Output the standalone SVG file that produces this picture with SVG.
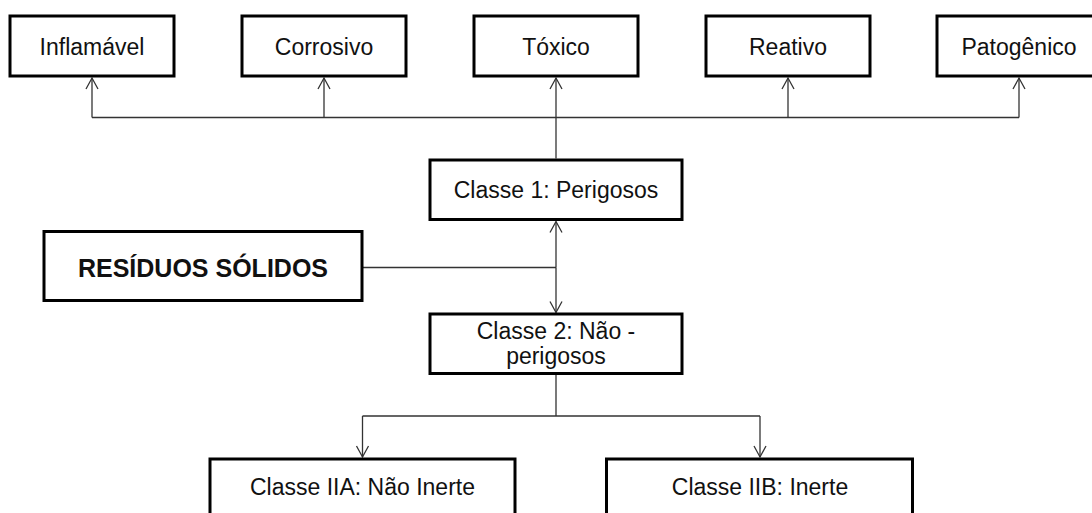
<svg xmlns="http://www.w3.org/2000/svg" width="1092" height="513" viewBox="0 0 1092 513">
<style>
.box{fill:#fff;stroke:#000;stroke-width:3}
.t{font-family:"Liberation Sans",Arial,sans-serif;font-size:23px;fill:#111;text-anchor:middle}
.b{font-weight:bold;font-size:25px}
.c{fill:none;stroke:#333;stroke-width:1.3}
</style>
<defs>
<marker id="arr" viewBox="-13 -8 15 16" refX="0" refY="0" markerWidth="15" markerHeight="16" markerUnits="userSpaceOnUse" orient="auto">
<path d="M-11,-6 L0,0 L-11,6" fill="none" stroke="#333" stroke-width="1.3"/>
</marker>
</defs>
<rect width="1092" height="513" fill="#fff"/>
<g id="connectors">
<path class="c" d="M92,117.5 H1019"/>
<path class="c" d="M92,117.5 V78" marker-end="url(#arr)"/>
<path class="c" d="M324,117.5 V78" marker-end="url(#arr)"/>
<path class="c" d="M788,117.5 V78" marker-end="url(#arr)"/>
<path class="c" d="M1019,117.5 V78" marker-end="url(#arr)"/>
<path class="c" d="M556,158.5 V78" marker-end="url(#arr)"/>
<path class="c" d="M363,267.5 H556"/>
<path class="c" d="M556,267.5 V221.5" marker-end="url(#arr)"/>
<path class="c" d="M556,267.5 V312.5" marker-end="url(#arr)"/>
<path class="c" d="M556,375 V416 M362.5,416 H760"/>
<path class="c" d="M362.5,416 V457" marker-end="url(#arr)"/>
<path class="c" d="M760,416 V457" marker-end="url(#arr)"/>
</g>
<g id="inflamavel">
<rect class="box" x="10" y="16" width="164" height="60"/>
<text class="t" x="92" y="54.5">Inflamável</text>
</g>
<g id="corrosivo">
<rect class="box" x="242" y="16" width="164" height="60"/>
<text class="t" x="324" y="54.5">Corrosivo</text>
</g>
<g id="toxico">
<rect class="box" x="474" y="16" width="164" height="60"/>
<text class="t" x="556" y="54.5">Tóxico</text>
</g>
<g id="reativo">
<rect class="box" x="706" y="16" width="164" height="60"/>
<text class="t" x="788" y="54.5">Reativo</text>
</g>
<g id="patogenico">
<rect class="box" x="937" y="16" width="164" height="60"/>
<text class="t" x="1019" y="54.5">Patogênico</text>
</g>
<g id="classe1">
<rect class="box" x="430" y="160" width="252" height="59.5"/>
<text class="t" x="556" y="197.7">Classe 1: Perigosos</text>
</g>
<g id="residuos">
<rect class="box" x="44" y="231.5" width="318" height="69"/>
<text class="t b" x="203" y="276.7">RESÍDUOS SÓLIDOS</text>
</g>
<g id="classe2">
<rect class="box" x="430" y="314" width="252" height="59.5"/>
<text class="t" x="556" y="339.3">Classe 2: Não -</text>
<text class="t" x="556" y="364">perigosos</text>
</g>
<g id="classeIIA">
<rect class="box" x="210" y="459" width="305" height="80"/>
<text class="t" x="362.5" y="495">Classe IIA: Não Inerte</text>
</g>
<g id="classeIIB">
<rect class="box" x="606.5" y="459" width="306" height="80"/>
<text class="t" x="760" y="495">Classe IIB: Inerte</text>
</g>
</svg>
